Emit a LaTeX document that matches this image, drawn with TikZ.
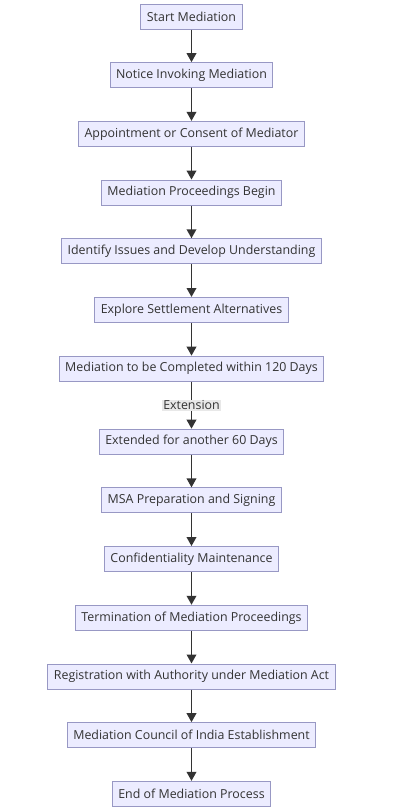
\documentclass[tikz,border=0pt]{standalone}
\usepackage{fontspec}
\setmainfont{Open Sans}
\usepackage{xcolor}
\usetikzlibrary{positioning}
\usetikzlibrary{arrows.meta}
\definecolor{boxfill}{HTML}{ECECFF}
\definecolor{boxline}{HTML}{9898C4}
\definecolor{inkgray}{HTML}{333333}
\definecolor{labelfill}{HTML}{E8E8E8}
\begin{document}
\begin{tikzpicture}
        [
        every node/.style = {rectangle, draw = boxline, fill = boxfill, text = inkgray, minimum height = 25pt, inner xsep = 6pt, inner ysep = 0pt, line width = 1pt},
        node distance = 58.7pt, font = {\fontsize{12.4}{14}\selectfont}, line width = 1.9pt, draw = inkgray,
        > = {Triangle[length = 9pt, width = 9.5pt]}]
        \path[use as bounding box] (0pt, 0pt) rectangle (401pt, -811pt);
        \node (start) at (191.5pt, -16.5pt) {Start Mediation};
        \node (notice) [below of=start] {Notice Invoking Mediation};
        \node (appoint) [below of=notice] {Appointment or Consent of Mediator};
        \node (begin) [below of=appoint] {Mediation Proceedings Begin};
        \node (issues) [below of=begin] {Identify Issues and Develop Understanding};
        \node (explore) [below of=issues] {Explore Settlement Alternatives};
        \node (within) [below of=explore] {Mediation to be Completed within 120 Days};
        \node (extended) [below of=within, node distance=73pt] {Extended for another 60 Days};
        \node (msa) [below of=extended] {MSA Preparation and Signing};
        \node (confid) [below of=msa] {Confidentiality Maintenance};
        \node (termin) [below of=confid] {Termination of Mediation Proceedings};
        \node (regist) [below of=termin] {Registration with Authority under Mediation Act};
        \node (council) [below of=regist] {Mediation Council of India Establishment};
        \node (finish) [below of=council] {End of Mediation Process};
        \draw[->] (start) -- (notice);
        \draw[->] (notice) -- (appoint);
        \draw[->] (appoint) -- (begin);
        \draw[->] (begin) -- (issues);
        \draw[->] (issues) -- (explore);
        \draw[->] (explore) -- (within);
        \draw[->] (within) -- node[draw=none, fill=labelfill, inner xsep=1.5pt, inner ysep=1pt, minimum height=0pt] {Extension} (extended);
        \draw[->] (extended) -- (msa);
        \draw[->] (msa) -- (confid);
        \draw[->] (confid) -- (termin);
        \draw[->] (termin) -- (regist);
        \draw[->] (regist) -- (council);
        \draw[->] (council) -- (finish);
    \end{tikzpicture}
\end{document}
